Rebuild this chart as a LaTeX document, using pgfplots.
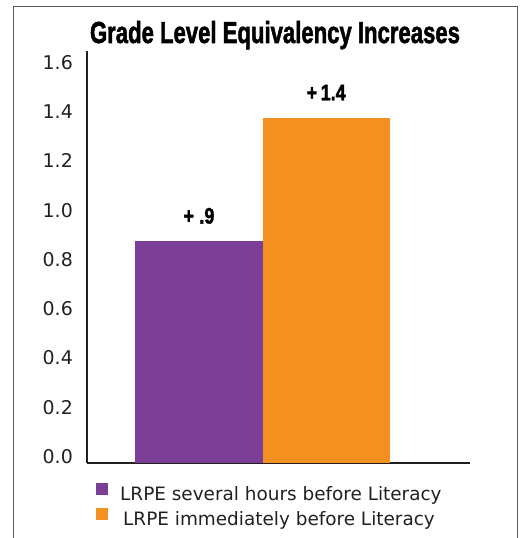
\documentclass[border=0pt]{standalone}
\usepackage{pgfplots}
\pgfplotsset{compat=1.18}
\usepackage{fontspec}
\setmainfont{DejaVu Sans}
\newfontfamily\headfont{Liberation Sans}[BoldFont={Liberation Sans Bold}, BoldFeatures={FakeBold=2}]
\definecolor{lrpepurple}{HTML}{7B3F98}
\definecolor{lrpeorange}{HTML}{F39020}
\definecolor{axisgray}{HTML}{231F20}
\begin{document}
\begin{tikzpicture}
\path[use as bounding box] (0bp,0bp) rectangle (521bp,538bp);
\draw[black!65, line width=1bp] (13bp,0bp) -- (13bp,531bp) -- (517bp,531bp) -- (517bp,0bp);
\node[anchor=base, inner sep=0pt] at (275bp,495bp) {\resizebox{370bp}{22bp}{\headfont\bfseries Grade Level Equivalency Increases}};
\begin{axis}[
  at={(87bp,75.3bp)}, anchor=south west,
  scale only axis, width=383bp, height=411.7bp,
  xmin=-0.88, xmax=2.13, ymin=0, ymax=1.67,
  axis lines*=left,
  axis line style={line width=2bp, color=axisgray, -},
  xtick=\empty,
  ytick={0,0.2,0.4,0.6,0.8,1.0,1.2,1.4,1.6},
  major tick length=0pt,
  yticklabel style={/pgf/number format/fixed, /pgf/number format/fixed zerofill, /pgf/number format/precision=1,
     /pgf/number format/assume math mode=true,
     font=\fontsize{19}{19}\selectfont, text=axisgray, inner sep=0pt, xshift=-14bp, yshift=6bp},
  ybar, bar width=1, bar shift=0pt,
  clip=false,
  nodes near coords={\scalebox{0.8}[1]{\headfont\bfseries\fontsize{22.5}{22.5}\selectfont\pgfplotspointmeta}},
  every node near coord/.append style={anchor=center, yshift=25bp, text=black},
  point meta=explicit symbolic,
  legend style={at={(0.0235,-0.0493)}, anchor=north west, draw=none, fill=none,
     font=\fontsize{18.5}{18.5}\selectfont, text=axisgray, inner sep=0pt,
     nodes={inner sep=0pt, text height=14bp, text depth=4bp},
     row sep=4bp, column sep=12bp},
  legend cell align=left,
  legend image code/.code={\path[#1,draw=none] (0bp,0bp) rectangle (12bp,12bp);},
]
\addplot[fill=lrpepurple, draw=none] coordinates {(0,0.9) [+\hspace{0.3em}.9]};
\addlegendentry{LRPE several hours before Literacy}
\addplot[fill=lrpeorange, draw=none] coordinates {(1,1.4) [+\hspace{0.2em}1.4]};
\addlegendentry{\hspace{3bp}LRPE immediately before Literacy}
\end{axis}
\end{tikzpicture}
\end{document}
